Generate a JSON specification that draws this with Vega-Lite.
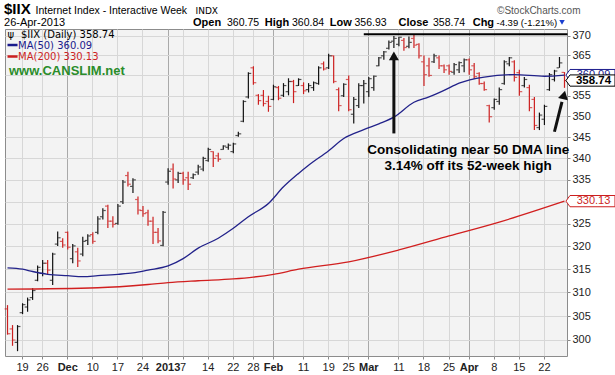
{
  "$schema": "https://vega.github.io/schema/vega-lite/v6.json",
  "width": 562,
  "height": 327,
  "autosize": {"type": "none"},
  "padding": {"left": 5, "top": 29, "right": 48, "bottom": 19},
  "background": "white",
  "config": {"view": {"stroke": "#8c8c8c", "fill": "#f3f3f3"}, "font": "Liberation Sans"},
  "datasets": {
    "bars": [
      {"d":"2012-11-14","o":306.5,"h":307.3,"l":301.1,"c":301.3},
      {"d":"2012-11-15","o":302.3,"h":303.1,"l":298.8,"c":300.0},
      {"d":"2012-11-16","o":299.5,"h":303.1,"l":297.7,"c":302.8},
      {"d":"2012-11-19","o":305.7,"h":307.7,"l":305.4,"c":307.4},
      {"d":"2012-11-20","o":306.9,"h":308.9,"l":305.9,"c":308.4},
      {"d":"2012-11-21","o":308.9,"h":310.9,"l":308.4,"c":310.4},
      {"d":"2012-11-23","o":312.6,"h":315.8,"l":312.4,"c":315.4},
      {"d":"2012-11-26","o":314.1,"h":317.0,"l":313.5,"c":316.3},
      {"d":"2012-11-27","o":316.3,"h":317.0,"l":313.9,"c":314.8},
      {"d":"2012-11-28","o":312.6,"h":318.6,"l":311.6,"c":318.3},
      {"d":"2012-11-29","o":320.5,"h":323.3,"l":320.1,"c":321.9},
      {"d":"2012-11-30","o":321.1,"h":321.8,"l":319.7,"c":320.3},
      {"d":"2012-12-03","o":323.1,"h":323.3,"l":319.3,"c":319.8},
      {"d":"2012-12-04","o":317.3,"h":320.5,"l":316.3,"c":320.1},
      {"d":"2012-12-05","o":318.8,"h":319.7,"l":315.5,"c":316.8},
      {"d":"2012-12-06","o":318.3,"h":322.1,"l":317.8,"c":321.1},
      {"d":"2012-12-07","o":321.3,"h":322.7,"l":320.3,"c":322.3},
      {"d":"2012-12-10","o":322.6,"h":323.1,"l":320.6,"c":321.1},
      {"d":"2012-12-11","o":323.1,"h":326.7,"l":322.7,"c":326.1},
      {"d":"2012-12-12","o":326.6,"h":328.5,"l":326.0,"c":328.0},
      {"d":"2012-12-13","o":329.0,"h":329.3,"l":324.1,"c":325.6},
      {"d":"2012-12-14","o":325.6,"h":326.7,"l":324.2,"c":324.9},
      {"d":"2012-12-17","o":325.1,"h":329.5,"l":324.8,"c":329.0},
      {"d":"2012-12-18","o":330.0,"h":335.0,"l":329.5,"c":334.5},
      {"d":"2012-12-19","o":336.0,"h":336.9,"l":333.5,"c":334.0},
      {"d":"2012-12-20","o":333.5,"h":335.4,"l":332.0,"c":335.0},
      {"d":"2012-12-21","o":330.5,"h":331.2,"l":327.1,"c":328.1},
      {"d":"2012-12-24","o":328.0,"h":329.0,"l":326.6,"c":327.3},
      {"d":"2012-12-26","o":327.5,"h":328.2,"l":324.6,"c":325.6},
      {"d":"2012-12-27","o":325.6,"h":326.6,"l":320.5,"c":323.1},
      {"d":"2012-12-28","o":323.1,"h":324.1,"l":320.7,"c":321.2},
      {"d":"2012-12-31","o":320.2,"h":327.9,"l":320.0,"c":327.6},
      {"d":"2013-01-02","o":334.5,"h":337.7,"l":333.9,"c":337.0},
      {"d":"2013-01-03","o":337.5,"h":338.8,"l":333.0,"c":335.2},
      {"d":"2013-01-04","o":335.0,"h":336.9,"l":334.3,"c":336.5},
      {"d":"2013-01-07","o":336.5,"h":336.9,"l":333.9,"c":335.0},
      {"d":"2013-01-08","o":335.5,"h":336.9,"l":332.7,"c":334.0},
      {"d":"2013-01-09","o":335.5,"h":336.5,"l":335.2,"c":336.2},
      {"d":"2013-01-10","o":336.8,"h":338.5,"l":336.2,"c":338.0},
      {"d":"2013-01-11","o":337.5,"h":340.4,"l":337.0,"c":340.0},
      {"d":"2013-01-14","o":339.5,"h":342.5,"l":339.2,"c":342.1},
      {"d":"2013-01-15","o":341.6,"h":341.7,"l":338.0,"c":340.0},
      {"d":"2013-01-16","o":340.6,"h":341.3,"l":339.2,"c":339.8},
      {"d":"2013-01-17","o":342.1,"h":343.1,"l":342.0,"c":342.9},
      {"d":"2013-01-18","o":342.6,"h":343.5,"l":342.0,"c":343.1},
      {"d":"2013-01-22","o":341.6,"h":343.7,"l":341.2,"c":343.4},
      {"d":"2013-01-23","o":345.4,"h":346.3,"l":345.1,"c":345.8},
      {"d":"2013-01-24","o":348.8,"h":353.9,"l":348.6,"c":353.6},
      {"d":"2013-01-25","o":354.7,"h":360.8,"l":354.3,"c":360.5},
      {"d":"2013-01-28","o":361.9,"h":362.3,"l":357.7,"c":358.2},
      {"d":"2013-01-29","o":355.1,"h":355.4,"l":352.8,"c":353.8},
      {"d":"2013-01-30","o":355.1,"h":356.4,"l":352.4,"c":353.1},
      {"d":"2013-01-31","o":353.6,"h":355.0,"l":351.1,"c":352.4},
      {"d":"2013-02-01","o":354.1,"h":357.7,"l":353.9,"c":357.2},
      {"d":"2013-02-04","o":357.0,"h":357.4,"l":353.9,"c":354.4},
      {"d":"2013-02-05","o":355.1,"h":358.1,"l":354.7,"c":357.5},
      {"d":"2013-02-06","o":356.0,"h":359.3,"l":355.1,"c":358.5},
      {"d":"2013-02-07","o":358.5,"h":358.9,"l":353.2,"c":356.0},
      {"d":"2013-02-08","o":357.5,"h":359.3,"l":357.4,"c":359.0},
      {"d":"2013-02-11","o":357.5,"h":358.3,"l":355.4,"c":356.2},
      {"d":"2013-02-12","o":356.5,"h":358.1,"l":355.8,"c":357.5},
      {"d":"2013-02-13","o":357.0,"h":358.5,"l":356.2,"c":358.2},
      {"d":"2013-02-14","o":358.0,"h":362.3,"l":357.7,"c":361.9},
      {"d":"2013-02-15","o":362.9,"h":363.5,"l":361.2,"c":361.6},
      {"d":"2013-02-19","o":361.9,"h":365.4,"l":361.6,"c":364.9},
      {"d":"2013-02-20","o":364.9,"h":365.0,"l":358.1,"c":358.5},
      {"d":"2013-02-21","o":356.5,"h":357.0,"l":351.2,"c":352.6},
      {"d":"2013-02-22","o":355.0,"h":358.1,"l":354.7,"c":357.8},
      {"d":"2013-02-25","o":359.0,"h":360.0,"l":351.2,"c":351.6},
      {"d":"2013-02-26","o":350.5,"h":354.7,"l":348.3,"c":354.1},
      {"d":"2013-02-27","o":352.6,"h":358.1,"l":352.0,"c":357.5},
      {"d":"2013-02-28","o":357.5,"h":358.9,"l":353.1,"c":358.0},
      {"d":"2013-03-01","o":356.0,"h":359.6,"l":354.7,"c":359.2},
      {"d":"2013-03-04","o":357.0,"h":360.0,"l":356.2,"c":359.8},
      {"d":"2013-03-05","o":362.4,"h":364.6,"l":362.3,"c":364.4},
      {"d":"2013-03-06","o":364.9,"h":366.1,"l":363.9,"c":365.9},
      {"d":"2013-03-07","o":366.8,"h":368.8,"l":366.5,"c":368.3},
      {"d":"2013-03-08","o":368.6,"h":369.9,"l":366.9,"c":369.3},
      {"d":"2013-03-11","o":367.8,"h":369.7,"l":367.3,"c":369.6},
      {"d":"2013-03-12","o":368.8,"h":369.4,"l":366.2,"c":367.0},
      {"d":"2013-03-13","o":367.3,"h":369.8,"l":366.8,"c":368.3},
      {"d":"2013-03-14","o":369.3,"h":370.37,"l":366.9,"c":367.6},
      {"d":"2013-03-15","o":367.8,"h":368.1,"l":364.2,"c":364.9},
      {"d":"2013-03-18","o":363.4,"h":365.0,"l":357.4,"c":360.2},
      {"d":"2013-03-19","o":362.4,"h":364.4,"l":359.7,"c":360.0},
      {"d":"2013-03-20","o":363.4,"h":365.4,"l":363.1,"c":364.9},
      {"d":"2013-03-21","o":364.4,"h":365.0,"l":361.6,"c":362.4},
      {"d":"2013-03-22","o":362.4,"h":362.7,"l":360.6,"c":361.4},
      {"d":"2013-03-25","o":362.4,"h":362.7,"l":360.2,"c":361.0},
      {"d":"2013-03-26","o":360.8,"h":363.1,"l":360.2,"c":362.7},
      {"d":"2013-03-27","o":361.4,"h":363.5,"l":360.6,"c":363.2},
      {"d":"2013-03-28","o":362.4,"h":364.2,"l":360.8,"c":363.9},
      {"d":"2013-04-01","o":363.9,"h":364.2,"l":360.2,"c":361.4},
      {"d":"2013-04-02","o":362.4,"h":363.1,"l":359.1,"c":359.7},
      {"d":"2013-04-03","o":360.5,"h":360.8,"l":357.7,"c":358.0},
      {"d":"2013-04-04","o":358.0,"h":358.5,"l":356.2,"c":356.5},
      {"d":"2013-04-05","o":352.6,"h":352.8,"l":348.5,"c":349.9},
      {"d":"2013-04-08","o":352.1,"h":354.3,"l":351.6,"c":354.1},
      {"d":"2013-04-09","o":353.6,"h":357.0,"l":352.8,"c":356.5},
      {"d":"2013-04-10","o":358.0,"h":363.8,"l":357.7,"c":363.4},
      {"d":"2013-04-11","o":362.9,"h":364.6,"l":362.3,"c":364.4},
      {"d":"2013-04-12","o":363.4,"h":363.8,"l":358.5,"c":359.5},
      {"d":"2013-04-15","o":360.7,"h":361.4,"l":355.0,"c":356.0},
      {"d":"2013-04-16","o":357.5,"h":359.6,"l":357.0,"c":359.0},
      {"d":"2013-04-17","o":357.0,"h":357.7,"l":351.2,"c":352.1},
      {"d":"2013-04-18","o":354.1,"h":354.7,"l":346.7,"c":347.8},
      {"d":"2013-04-19","o":347.3,"h":350.9,"l":346.7,"c":350.3},
      {"d":"2013-04-22","o":349.3,"h":352.8,"l":347.9,"c":352.4},
      {"d":"2013-04-23","o":356.5,"h":360.6,"l":356.2,"c":360.2},
      {"d":"2013-04-24","o":359.0,"h":361.4,"l":358.5,"c":361.1},
      {"d":"2013-04-25","o":361.9,"h":364.6,"l":361.9,"c":363.13},
      {"d":"2013-04-26","o":360.75,"h":360.84,"l":356.93,"c":358.74}
    ],
    "ma50": [
      {"d":"2012-11-14","v":315.3},{"d":"2012-11-19","v":315.0},{"d":"2012-11-21","v":314.5},
      {"d":"2012-11-27","v":313.9},{"d":"2012-12-03","v":313.6},{"d":"2012-12-06","v":313.4},
      {"d":"2012-12-11","v":313.6},{"d":"2012-12-17","v":313.9},{"d":"2012-12-20","v":314.2},
      {"d":"2012-12-26","v":314.8},{"d":"2013-01-02","v":315.7},{"d":"2013-01-07","v":317.3},
      {"d":"2013-01-10","v":319.6},{"d":"2013-01-16","v":321.8},{"d":"2013-01-22","v":324.0},
      {"d":"2013-01-25","v":326.6},{"d":"2013-01-31","v":329.6},{"d":"2013-02-05","v":333.4},
      {"d":"2013-02-08","v":336.5},{"d":"2013-02-12","v":338.4},{"d":"2013-02-19","v":341.8},
      {"d":"2013-02-22","v":344.7},{"d":"2013-02-28","v":346.8},{"d":"2013-03-05","v":348.2},
      {"d":"2013-03-08","v":349.8},{"d":"2013-03-14","v":353.4},{"d":"2013-03-19","v":354.7},
      {"d":"2013-03-22","v":356.3},{"d":"2013-03-27","v":358.1},{"d":"2013-04-04","v":359.6},
      {"d":"2013-04-12","v":360.2},{"d":"2013-04-22","v":359.8},{"d":"2013-04-26","v":360.09}
    ],
    "ma200": [
      {"d":"2012-11-14","v":310.7},{"d":"2012-12-11","v":311.0},{"d":"2012-12-26","v":311.7},
      {"d":"2013-01-02","v":312.1},{"d":"2013-01-10","v":312.5},{"d":"2013-01-22","v":312.9},
      {"d":"2013-01-28","v":313.3},{"d":"2013-02-01","v":313.9},{"d":"2013-02-08","v":315.0},
      {"d":"2013-02-25","v":316.6},{"d":"2013-03-11","v":319.2},{"d":"2013-03-25","v":322.3},
      {"d":"2013-04-09","v":325.4},{"d":"2013-04-26","v":330.13}
    ]
  },
  "layer": [
    {
      "data": {"name": "bars"},
      "transform": [
        {"window": [{"op": "lag", "field": "c", "as": "pc"}], "sort": [{"field": "d", "order": "ascending"}]},
        {"calculate": "datum.pc == null || datum.c < datum.pc ? 'dn' : 'up'", "as": "dir"}
      ],
      "layer": [
        {
          "mark": {"type": "rule", "strokeWidth": 1.2},
          "encoding": {
            "x": {
              "field": "d", "type": "ordinal",
              "scale": {"type": "band", "paddingInner": 0, "paddingOuter": 0},
              "axis": {
                "title": null,
                "values": ["2012-11-19","2012-11-26","2012-12-03","2012-12-10","2012-12-17","2012-12-24","2013-01-02","2013-01-07","2013-01-14","2013-01-22","2013-01-28","2013-02-01","2013-02-11","2013-02-19","2013-02-25","2013-03-01","2013-03-11","2013-03-18","2013-03-25","2013-04-01","2013-04-08","2013-04-15","2013-04-22"],
                "labelExpr": "datum.value == '2012-12-03' ? 'Dec' : datum.value == '2013-01-02' ? '2013' : datum.value == '2013-02-01' ? 'Feb' : datum.value == '2013-03-01' ? 'Mar' : datum.value == '2013-04-01' ? 'Apr' : '' + toNumber(substring(datum.value, 8, 10))",
                "labelAngle": 0,
                "labelOverlap": false,
                "labelBound": false,
                "labelFont": "Liberation Sans",
                "labelFontSize": 11,
                "labelColor": "#222222",
                "labelPadding": 2,
                "labelFontWeight": {"condition": {"test": "indexof(['2012-12-03','2013-01-02','2013-02-01','2013-03-01','2013-04-01'], datum.value) >= 0", "value": "bold"}, "value": "normal"},
                "bandPosition": 0.5,
                "grid": true,
                "gridColor": {"condition": {"test": "indexof(['2012-12-03','2013-01-02','2013-02-01','2013-03-01','2013-04-01'], datum.value) >= 0", "value": "#a9a9a9"}, "value": "#d7d7d7"},
                "tickSize": 3,
                "tickColor": "#888888",
                "domain": false
              }
            },
            "y": {
              "field": "l", "type": "quantitative",
              "scale": {"type": "log", "domain": [296.71, 371.71], "nice": false, "zero": false},
              "axis": {
                "title": null,
                "orient": "right",
                "values": [300,305,310,315,320,325,330,335,340,345,350,355,360,365,370],
                "format": "d",
                "labelExpr": "datum.value == 330 || datum.value == 360 ? '' : datum.label",
                "labelOverlap": false,
                "labelFont": "Liberation Sans",
                "labelFontSize": 11,
                "labelColor": "#222222",
                "labelPadding": 2,
                "grid": true,
                "gridColor": "#d7d7d7",
                "tickSize": 3,
                "tickColor": "#888888",
                "domain": false
              }
            },
            "y2": {"field": "h"},
            "color": {"field": "dir", "type": "nominal", "scale": {"domain": ["up", "dn"], "range": ["#111111", "#cc1f1f"]}, "legend": null}
          }
        },
        {
          "mark": {"type": "tick", "orient": "horizontal", "size": 2.4, "thickness": 1.2, "xOffset": -1.7},
          "encoding": {
            "x": {"field": "d", "type": "ordinal"},
            "y": {"field": "o", "type": "quantitative"},
            "color": {"field": "dir", "type": "nominal", "legend": null}
          }
        },
        {
          "mark": {"type": "tick", "orient": "horizontal", "size": 2.4, "thickness": 1.2, "xOffset": 1.7},
          "encoding": {
            "x": {"field": "d", "type": "ordinal"},
            "y": {"field": "c", "type": "quantitative"},
            "color": {"field": "dir", "type": "nominal", "legend": null}
          }
        }
      ]
    },
    {
      "data": {"name": "ma200"},
      "mark": {"type": "line", "color": "#d11f1f", "strokeWidth": 1.3, "interpolate": "monotone"},
      "encoding": {"x": {"field": "d", "type": "ordinal"}, "y": {"field": "v", "type": "quantitative"}}
    },
    {
      "data": {"name": "ma50"},
      "mark": {"type": "line", "color": "#22228a", "strokeWidth": 1.3, "interpolate": "monotone"},
      "encoding": {"x": {"field": "d", "type": "ordinal"}, "y": {"field": "v", "type": "quantitative"}}
    },
    {
      "data": {"values": [{}]},
      "layer": [
        {
          "mark": {"type": "rule", "color": "#000000", "strokeWidth": 2.2, "x2Offset": 3},
          "encoding": {"x": {"datum": "2013-02-28", "type": "ordinal"}, "x2": {"datum": "2013-04-26"}, "y": {"datum": 370.37, "type": "quantitative"}}
        },
        {
          "mark": {"type": "rule", "color": "#111111", "strokeWidth": 3},
          "encoding": {"x": {"datum": "2013-03-08", "type": "ordinal"}, "y": {"datum": 345.9, "type": "quantitative"}, "y2": {"datum": 363.9}}
        },
        {
          "mark": {"type": "point", "shape": "triangle-up", "filled": true, "color": "#111111", "size": 100, "opacity": 1},
          "encoding": {"x": {"datum": "2013-03-08", "type": "ordinal"}, "y": {"datum": 364.9, "type": "quantitative"}}
        },
        {
          "mark": {"type": "rule", "color": "#111111", "strokeWidth": 3, "x2Offset": 2.5},
          "encoding": {"x": {"datum": "2013-04-24", "type": "ordinal"}, "x2": {"datum": "2013-04-25"}, "y": {"datum": 346.3, "type": "quantitative"}, "y2": {"datum": 353.5}}
        },
        {
          "mark": {"type": "point", "shape": "triangle-up", "filled": true, "color": "#111111", "size": 100, "opacity": 1, "angle": 14, "xOffset": -0.5},
          "encoding": {"x": {"datum": "2013-04-26", "type": "ordinal"}, "y": {"datum": 355.2, "type": "quantitative"}}
        },
        {
          "mark": {"type": "text", "text": "Consolidating near 50 DMA line", "align": "center", "baseline": "alphabetic", "dx": -1, "font": "Liberation Sans", "fontSize": 13.5, "fontWeight": "bold", "color": "#000000"},
          "encoding": {"x": {"datum": "2013-04-01", "type": "ordinal"}, "y": {"datum": 341.03, "type": "quantitative"}}
        },
        {
          "mark": {"type": "text", "text": "3.14% off its 52-week high", "align": "center", "baseline": "alphabetic", "dx": -1, "font": "Liberation Sans", "fontSize": 13.5, "fontWeight": "bold", "color": "#000000"},
          "encoding": {"x": {"datum": "2013-04-01", "type": "ordinal"}, "y": {"datum": 337.29, "type": "quantitative"}}
        },
        {
          "mark": {"type": "text", "text": "ψ", "align": "left", "baseline": "alphabetic", "dx": 0, "font": "DejaVu Sans", "fontSize": 10, "color": "#000000"},
          "encoding": {"x": {"datum": "2012-11-14", "type": "ordinal"}, "y": {"datum": 369.49, "type": "quantitative"}}
        },
        {
          "mark": {"type": "text", "text": "$IIX (Daily) 358.74", "align": "left", "baseline": "alphabetic", "dx": 13.5, "font": "DejaVu Sans", "fontSize": 10, "color": "#000000"},
          "encoding": {"x": {"datum": "2012-11-14", "type": "ordinal"}, "y": {"datum": 369.49, "type": "quantitative"}}
        },
        {
          "mark": {"type": "rule", "color": "#1a1a8c", "strokeWidth": 2.5},
          "encoding": {"x": {"datum": "2012-11-14", "type": "ordinal"}, "x2": {"datum": "2012-11-16"}, "y": {"datum": 367.63, "type": "quantitative"}}
        },
        {
          "mark": {"type": "text", "text": "MA(50) 360.09", "align": "left", "baseline": "alphabetic", "dx": 10.5, "font": "DejaVu Sans", "fontSize": 10, "color": "#1a1a8c"},
          "encoding": {"x": {"datum": "2012-11-14", "type": "ordinal"}, "y": {"datum": 366.62, "type": "quantitative"}}
        },
        {
          "mark": {"type": "rule", "color": "#cc1f1f", "strokeWidth": 2.5},
          "encoding": {"x": {"datum": "2012-11-14", "type": "ordinal"}, "x2": {"datum": "2012-11-16"}, "y": {"datum": 364.73, "type": "quantitative"}}
        },
        {
          "mark": {"type": "text", "text": "MA(200) 330.13", "align": "left", "baseline": "alphabetic", "dx": 10.5, "font": "DejaVu Sans", "fontSize": 10, "color": "#cc1f1f"},
          "encoding": {"x": {"datum": "2012-11-14", "type": "ordinal"}, "y": {"datum": 363.85, "type": "quantitative"}}
        },
        {
          "mark": {"type": "text", "text": "www.CANSLIM.net", "align": "left", "baseline": "alphabetic", "dx": 1.5, "font": "Liberation Sans", "fontSize": 13, "fontWeight": "bold", "color": "#2a8c2a"},
          "encoding": {"x": {"datum": "2012-11-14", "type": "ordinal"}, "y": {"datum": 360.11, "type": "quantitative"}}
        },
        {
          "mark": {"type": "point", "shape": "M-1.18,0L-1,-0.25H1V0.25H-1Z", "filled": true, "fill": "#ffffff", "stroke": "#1a1a8c", "strokeWidth": 1, "size": 2025, "opacity": 1, "xOffset": 28},
          "encoding": {"x": {"datum": "2013-04-26", "type": "ordinal"}, "y": {"datum": 360.09, "type": "quantitative"}}
        },
        {
          "mark": {"type": "text", "text": "360.09", "align": "center", "baseline": "middle", "dx": 29, "font": "Liberation Sans", "fontSize": 11, "color": "#1a1a8c"},
          "encoding": {"x": {"datum": "2013-04-26", "type": "ordinal"}, "y": {"datum": 360.09, "type": "quantitative"}}
        },
        {
          "mark": {"type": "point", "shape": "M-1.18,0L-1,-0.25H1V0.25H-1Z", "filled": true, "fill": "#ffffff", "stroke": "#000000", "strokeWidth": 1, "size": 2025, "opacity": 1, "xOffset": 28},
          "encoding": {"x": {"datum": "2013-04-26", "type": "ordinal"}, "y": {"datum": 358.74, "type": "quantitative"}}
        },
        {
          "mark": {"type": "text", "text": "358.74", "align": "center", "baseline": "middle", "dx": 29, "font": "Liberation Sans", "fontSize": 11.5, "fontWeight": "bold", "color": "#000000"},
          "encoding": {"x": {"datum": "2013-04-26", "type": "ordinal"}, "y": {"datum": 358.74, "type": "quantitative"}}
        },
        {
          "mark": {"type": "point", "shape": "M-1.18,0L-1,-0.25H1V0.25H-1Z", "filled": true, "fill": "#ffffff", "stroke": "#cc1f1f", "strokeWidth": 1, "size": 2025, "opacity": 1, "xOffset": 28},
          "encoding": {"x": {"datum": "2013-04-26", "type": "ordinal"}, "y": {"datum": 330.13, "type": "quantitative"}}
        },
        {
          "mark": {"type": "text", "text": "330.13", "align": "center", "baseline": "middle", "dx": 29, "font": "Liberation Sans", "fontSize": 11, "color": "#cc1f1f"},
          "encoding": {"x": {"datum": "2013-04-26", "type": "ordinal"}, "y": {"datum": 330.13, "type": "quantitative"}}
        },
        {
          "mark": {"type": "text", "text": "$IIX", "align": "left", "baseline": "alphabetic", "dx": -3.5, "font": "Liberation Sans", "fontSize": 15, "fontWeight": "bold", "color": "#000000"},
          "encoding": {"x": {"datum": "2012-11-14", "type": "ordinal"}, "y": {"datum": 375.58, "type": "quantitative"}}
        },
        {
          "mark": {"type": "text", "text": "Internet Index - Interactive Week", "align": "left", "baseline": "alphabetic", "dx": 28, "font": "Liberation Sans", "fontSize": 10.5, "color": "#000000"},
          "encoding": {"x": {"datum": "2012-11-14", "type": "ordinal"}, "y": {"datum": 375.58, "type": "quantitative"}}
        },
        {
          "mark": {"type": "text", "text": "INDX", "align": "left", "baseline": "alphabetic", "dx": 188, "font": "DejaVu Sans", "fontSize": 9, "color": "#000000"},
          "encoding": {"x": {"datum": "2012-11-14", "type": "ordinal"}, "y": {"datum": 375.58, "type": "quantitative"}}
        },
        {
          "mark": {"type": "text", "text": "©StockCharts.com", "align": "left", "baseline": "alphabetic", "dx": 489.5, "font": "Liberation Sans", "fontSize": 10, "color": "#555555"},
          "encoding": {"x": {"datum": "2012-11-14", "type": "ordinal"}, "y": {"datum": 375.58, "type": "quantitative"}}
        },
        {
          "mark": {"type": "text", "text": "26-Apr-2013", "align": "left", "baseline": "alphabetic", "dx": -3.5, "font": "Liberation Sans", "fontSize": 11, "color": "#000000"},
          "encoding": {"x": {"datum": "2012-11-14", "type": "ordinal"}, "y": {"datum": 372.48, "type": "quantitative"}}
        },
        {
          "mark": {"type": "text", "text": "Open", "align": "left", "baseline": "alphabetic", "dx": 185.5, "font": "Liberation Sans", "fontSize": 11, "fontWeight": "bold", "color": "#000000"},
          "encoding": {"x": {"datum": "2012-11-14", "type": "ordinal"}, "y": {"datum": 372.48, "type": "quantitative"}}
        },
        {
          "mark": {"type": "text", "text": "360.75", "align": "left", "baseline": "alphabetic", "dx": 219.5, "font": "Liberation Sans", "fontSize": 10.5, "color": "#000000"},
          "encoding": {"x": {"datum": "2012-11-14", "type": "ordinal"}, "y": {"datum": 372.48, "type": "quantitative"}}
        },
        {
          "mark": {"type": "text", "text": "High", "align": "left", "baseline": "alphabetic", "dx": 257.3, "font": "Liberation Sans", "fontSize": 11, "fontWeight": "bold", "color": "#000000"},
          "encoding": {"x": {"datum": "2012-11-14", "type": "ordinal"}, "y": {"datum": 372.48, "type": "quantitative"}}
        },
        {
          "mark": {"type": "text", "text": "360.84", "align": "left", "baseline": "alphabetic", "dx": 284.5, "font": "Liberation Sans", "fontSize": 10.5, "color": "#000000"},
          "encoding": {"x": {"datum": "2012-11-14", "type": "ordinal"}, "y": {"datum": 372.48, "type": "quantitative"}}
        },
        {
          "mark": {"type": "text", "text": "Low", "align": "left", "baseline": "alphabetic", "dx": 322.3, "font": "Liberation Sans", "fontSize": 11, "fontWeight": "bold", "color": "#000000"},
          "encoding": {"x": {"datum": "2012-11-14", "type": "ordinal"}, "y": {"datum": 372.48, "type": "quantitative"}}
        },
        {
          "mark": {"type": "text", "text": "356.93", "align": "left", "baseline": "alphabetic", "dx": 347, "font": "Liberation Sans", "fontSize": 10.5, "color": "#000000"},
          "encoding": {"x": {"datum": "2012-11-14", "type": "ordinal"}, "y": {"datum": 372.48, "type": "quantitative"}}
        },
        {
          "mark": {"type": "text", "text": "Close", "align": "left", "baseline": "alphabetic", "dx": 391, "font": "Liberation Sans", "fontSize": 11, "fontWeight": "bold", "color": "#000000"},
          "encoding": {"x": {"datum": "2012-11-14", "type": "ordinal"}, "y": {"datum": 372.48, "type": "quantitative"}}
        },
        {
          "mark": {"type": "text", "text": "358.74", "align": "left", "baseline": "alphabetic", "dx": 425.5, "font": "Liberation Sans", "fontSize": 10.5, "color": "#000000"},
          "encoding": {"x": {"datum": "2012-11-14", "type": "ordinal"}, "y": {"datum": 372.48, "type": "quantitative"}}
        },
        {
          "mark": {"type": "text", "text": "Chg", "align": "left", "baseline": "alphabetic", "dx": 465.2, "font": "Liberation Sans", "fontSize": 11, "fontWeight": "bold", "color": "#000000"},
          "encoding": {"x": {"datum": "2012-11-14", "type": "ordinal"}, "y": {"datum": 372.48, "type": "quantitative"}}
        },
        {
          "mark": {"type": "text", "text": "-4.39 (-1.21%)", "align": "left", "baseline": "alphabetic", "dx": 489, "font": "Liberation Sans", "fontSize": 9.5, "color": "#000000"},
          "encoding": {"x": {"datum": "2012-11-14", "type": "ordinal"}, "y": {"datum": 372.48, "type": "quantitative"}}
        },
        {
          "mark": {"type": "point", "shape": "triangle-down", "filled": true, "color": "#1a3fd0", "size": 30, "opacity": 1, "xOffset": 554.5},
          "encoding": {"x": {"datum": "2012-11-14", "type": "ordinal"}, "y": {"datum": 373.38, "type": "quantitative"}}
        }
      ]
    }
  ]
}
